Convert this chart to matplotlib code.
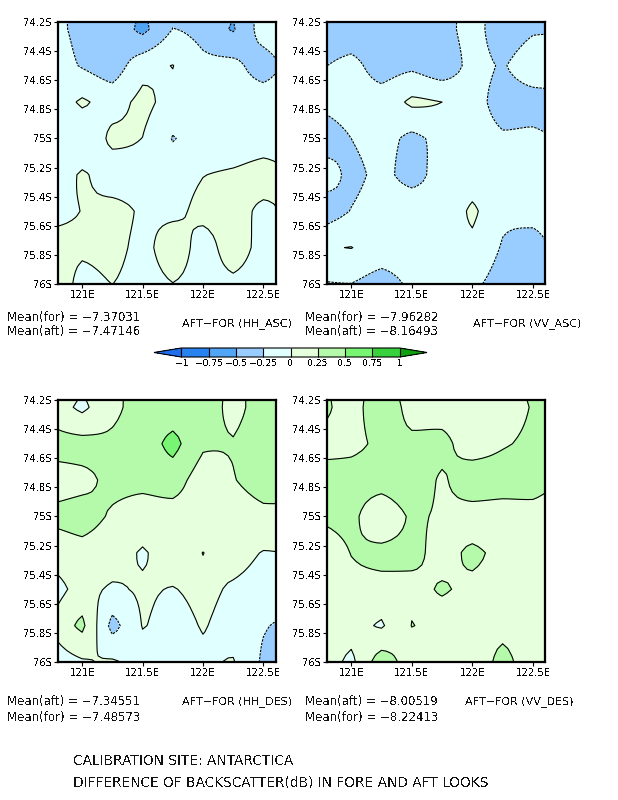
import matplotlib
matplotlib.use("Agg")
import matplotlib.pyplot as plt
from matplotlib.colors import ListedColormap, BoundaryNorm
import numpy as np

W = 618
H = 800

lons = [120.75, 121, 121.25, 121.5, 121.75, 122, 122.25, 122.5, 122.75]
lats = [74, 74.25, 74.5, 74.75, 75, 75.25, 75.5, 75.75, 76]

levels = [-1, -0.75, -0.5, -0.25, 0, 0.25, 0.5, 0.75, 1]
level_labels = ["\u22121", "\u22120.75", "\u22120.5", "\u22120.25", "0", "0.25", "0.5", "0.75", "1"]
colors = ["#2882F0", "#50A5F5", "#99CCFF", "#E0FFFF", "#E6FFDC", "#B4FAAA", "#78F573", "#37D23C"]
under_color = "#1E6EEB"
over_color = "#0FA00F"

xticks = [121, 121.5, 122, 122.5]
xticklabels = ["121E", "121.5E", "122E", "122.5E"]
yticks = [74.2, 74.4, 74.6, 74.8, 75, 75.2, 75.4, 75.6, 75.8, 76]
yticklabels = ["74.2S", "74.4S", "74.6S", "74.8S", "75S", "75.2S", "75.4S", "75.6S", "75.8S", "76S"]

hh_asc = [
    [-.20, -.30, -.35, -.40, -.35, -.35, -.40, -.20, -.40],
    [-.18, -.31, -.31, -.56, -.245, -.33, -.52, -.13, -.05],
    [-.12, -.27, -.38, -.09, .005, -.19, -.18, -.37, -.13],
    [-.15, .03, -.10, .06, -.09, -.10, -.12, -.10, -.08],
    [-.12, -.20, .05, -.003, -.262, -.12, -.12, -.08, -.05],
    [-.18, .03, -.13, -.10, -.10, -.005, .026, .065, -.02],
    [-.05, .004, .08, -.03, -.05, .054, .06, -.032, .04],
    [.06, .04, .08, -.07, .125, -.087, .098, -.07, -.07],
    [.20, -.08, .002, -.10, -.005, -.08, -.044, -.10, -.10],
]
vv_asc = [
    [-.40, -.40, -.40, -.40, -.40, -.12, -.40, -.35, -.35],
    [-.45, -.40, -.40, -.40, -.35, -.15, -.40, -.28, -.28],
    [-.27, -.18, -.36, -.30, -.42, -.17, -.27, -.10, -.05],
    [-.20, -.13, -.14, .04, .0, -.15, -.35, -.35, -.35],
    [-.40, -.25, -.15, -.31, -.17, -.13, -.22, -.20, -.28],
    [-.10, -.31, -.19, -.33, -.16, -.13, -.15, -.15, -.15],
    [-.40, -.24, -.12, -.10, -.20, .04, -.20, -.15, -.13],
    [-.03, .005, -.10, -.10, -.06, -.06, -.27, -.37, -.12],
    [-.27, -.255, -.37, -.20, -.15, -.20, -.35, -.35, -.30],
]
hh_des = [
    [.30, .15, .20, .35, .40, .40, .20, .35, .40],
    [.15, -.05, .20, .33, .35, .35, .20, .33, .35],
    [.335, .33, .29, .35, .57, .287, .26, .35, .35],
    [.15, .196, .30, .31, .36, .13, .24, .33, .33],
    [.30, .33, .225, .14, .15, .14, .15, .20, .20],
    [.10, .18, .12, -.023, .12, -.003, .10, -.013, .01],
    [-.10, .08, -.034, .03, -.01, .06, -.034, -.10, -.12],
    [.03, .30, -.32, .01, -.10, .015, -.10, -.23, -.32],
    [-.15, -.03, .03, -.10, -.08, -.05, .015, -.29, -.40],
]
vv_des = [
    [.25, .15, .30, .10, .10, .27, .27, .30, .35],
    [.317, .15, .41, .164, .13, .15, .15, .264, .35],
    [.18, .20, .29, .30, .32, .12, .225, .30, .40],
    [.34, .335, .34, .40, .22, .40, .38, .38, .22],
    [.28, .30, .10, .28, .22, .146, .125, .135, .10],
    [.13, .255, .30, .30, .19, .283, .20, .15, .12],
    [.12, .20, .186, .20, .265, .21, .18, .17, .15],
    [.15, .10, -.025, .255, .17, .17, .17, .15, .15],
    [.17, -.054, .39, .11, .12, .05, .337, .08, .15],
]

panels = [hh_asc, vv_asc, hh_des, vv_des]
# left, top, right, bottom in pixels
boxes = [(58, 22, 275.5, 284), (327, 22, 545, 284), (58, 400, 275.5, 662), (327, 400, 545, 662)]

mean_labels = [
    ("Mean(for) = \u22127.37031", "Mean(aft) = \u22127.47146"),
    ("Mean(for) = \u22127.96282", "Mean(aft) = \u22128.16493"),
    ("Mean(aft) = \u22127.34551", "Mean(for) = \u22127.48573"),
    ("Mean(aft) = \u22128.00519", "Mean(for) = \u22128.22413"),
]
panel_titles = ["AFT\u2212FOR (HH_ASC)", "AFT\u2212FOR (VV_ASC)", "AFT\u2212FOR (HH_DES)", "AFT\u2212FOR (VV_DES)"]
mean_pos = [(7, 317, 331), (305, 317, 331), (7, 702, 717), (305, 702, 717)]
title_pos = [(182, 324), (473, 324), (182, 702), (465, 702)]
footer = ["CALIBRATION SITE: ANTARCTICA", "DIFFERENCE OF BACKSCATTER(dB) IN FORE AND AFT LOOKS"]

plt.rcParams["font.family"] = "DejaVu Sans"
plt.rcParams["text.antialiased"] = False

cmap = ListedColormap(colors)
cmap.set_under(under_color)
cmap.set_over(over_color)
norm = BoundaryNorm(levels, cmap.N)


def px_axes(fig, box):
    l, t, r, b = box
    return fig.add_axes([l / W, 1 - b / H, (r - l) / W, (b - t) / H])


def put_text(fig, x, y, s, size=8):
    fig.text(x / W, 1 - y / H, s, fontsize=size, va="center", ha="left", color="#111111")


def refine(a, n=6, blend=0.3):
    # mostly linear with a bit of catmull-rom, rounds the contour corners but keeps the tips
    a = np.asarray(a, dtype=float)
    p = np.concatenate([[2 * a[0] - a[1]], a, [2 * a[-1] - a[-2]]])
    out = []
    for i in range(1, len(p) - 2):
        for t in np.arange(n) / n:
            cub = 0.5 * (2 * p[i] + (p[i + 1] - p[i - 1]) * t
                         + (2 * p[i - 1] - 5 * p[i] + 4 * p[i + 1] - p[i + 2]) * t ** 2
                         + (3 * p[i] - p[i - 1] - 3 * p[i + 1] + p[i + 2]) * t ** 3)
            out.append((1 - blend) * (p[i] + (p[i + 1] - p[i]) * t) + blend * cub)
    out.append(a[-1])
    return np.array(out)


fig = plt.figure(figsize=(W / 100, H / 100), dpi=100)

fine_lons = np.linspace(lons[0], lons[-1], (len(lons) - 1) * 6 + 1)
fine_lats = np.linspace(lats[0], lats[-1], (len(lats) - 1) * 6 + 1)

for i, data in enumerate(panels):
    ax = px_axes(fig, boxes[i])
    z = refine(np.array(data))
    z = refine(z.T).T
    cf = ax.contourf(fine_lons, fine_lats, z, levels=levels, cmap=cmap, norm=norm, extend="both", antialiased=False)
    styles = [(0, (2.2, 1)) if l < 0 else "solid" for l in levels]
    ax.contour(fine_lons, fine_lats, z, levels=levels, colors="black", linewidths=0.8, linestyles=styles)
    ax.set_xlim(120.8, 122.6)
    ax.set_ylim(76, 74.2)
    ax.set_xticks(xticks)
    ax.set_xticklabels(xticklabels, fontsize=7.2)
    ax.set_yticks(yticks)
    ax.set_yticklabels(yticklabels, fontsize=7.2)
    ax.tick_params(length=3, width=0.8, pad=1.5)
    for s in ax.spines.values():
        s.set_linewidth(1.6)
    mx, my1, my2 = mean_pos[i]
    put_text(fig, mx, my1, mean_labels[i][0], size=8.5)
    put_text(fig, mx, my2, mean_labels[i][1], size=8.5)
    put_text(fig, title_pos[i][0], title_pos[i][1], panel_titles[i])

cax = px_axes(fig, (154, 348, 427, 357))
cb = fig.colorbar(cf, cax=cax, orientation="horizontal", extend="both", extendfrac=0.125,
                  drawedges=True, spacing="uniform")
cb.set_ticks(levels)
cb.set_ticklabels(level_labels, fontsize=6.6)
cb.ax.tick_params(length=0, pad=1.5)
cb.outline.set_linewidth(0.8)
cb.dividers.set_linewidth(0.8)

put_text(fig, 73, 761, footer[0], size=9.9)
put_text(fig, 73, 783, footer[1], size=9.9)

fig.savefig("out.png", dpi=100)
